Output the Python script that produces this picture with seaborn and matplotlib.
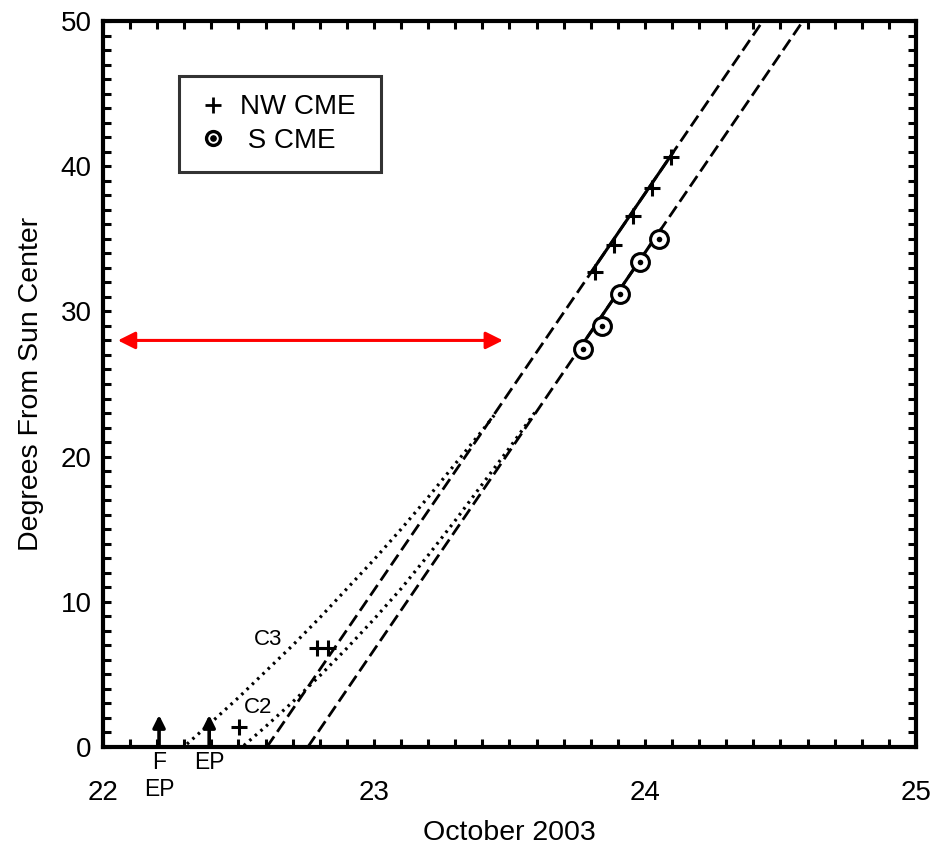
import numpy as np
import pandas as pd
import matplotlib
matplotlib.use("Agg")
import matplotlib.pyplot as plt
from matplotlib.lines import Line2D
from matplotlib.legend_handler import HandlerTuple
from matplotlib.ticker import MultipleLocator
import seaborn as sns

# --- measured positions (day of October 2003, degrees from Sun center) ---
nw_x = [23.815, 23.886, 23.956, 24.026, 24.096]
nw_y = [32.7, 34.6, 36.6, 38.5, 40.6]

s_x = [23.771, 23.841, 23.908, 23.982, 24.052]
s_y = [27.4, 29.0, 31.2, 33.4, 35.0]

# LASCO C3 and C2 measurements of the NW CME
c3_x = [22.79, 22.83]
c3_y = [6.8, 6.8]
c2_x = [22.502]
c2_y = [1.4]

# straight-line fits (extrapolated)
nw_fit_x = [22.605, 24.435]
nw_fit_y = [0.0, 50.0]
s_fit_x = [22.756, 24.583]
s_fit_y = [0.0, 50.0]

# accelerating profiles joining the coronagraph heights
nw_acc_x = [22.31, 22.40, 22.50, 22.60, 22.70, 22.80, 22.90, 23.00, 23.10, 23.20, 23.30, 23.40, 23.45]
nw_acc_y = [0.2, 1.7, 3.4, 5.2, 7.0, 8.9, 10.9, 12.9, 15.0, 17.2, 19.5, 21.8, 23.0]
s_acc_x = [22.52, 22.60, 22.70, 22.80, 22.90, 23.00, 23.10, 23.20, 23.30, 23.40, 23.50, 23.60]
s_acc_y = [0.1, 1.4, 3.1, 4.9, 6.8, 8.8, 10.9, 13.2, 15.6, 18.1, 20.6, 23.2]

# event markers: flare / eruption onsets
event_x = [22.207, 22.392]
event_labels = ["F\nEP", "EP"]
event_height = 2.2

# interval bar
span_x = [22.055, 23.476]
span_y = 28.0

x_ticks = [22, 23, 24, 25]
y_ticks = [0, 10, 20, 30, 40, 50]

sns.set_theme(style="ticks")
plt.rcParams["font.family"] = ["Liberation Sans", "DejaVu Sans"]
plt.rcParams["text.color"] = "black"
plt.rcParams["axes.labelcolor"] = "black"
plt.rcParams["xtick.color"] = "black"
plt.rcParams["ytick.color"] = "black"

fig = plt.figure(figsize=(9.36, 8.47), dpi=100)
ax = fig.add_axes([0.110, 0.1181, 0.8686, 0.8571])

dash = (0, (4.6, 2.0))
dot = (0, (0.8, 1.5))
lw = 2.0

# fitted lines: dashed everywhere, solid over the measured range
for fx, fy, px in [(nw_fit_x, nw_fit_y, nw_x), (s_fit_x, s_fit_y, s_x)]:
    df = pd.DataFrame({"x": fx, "y": fy})
    sns.lineplot(data=df, x="x", y="y", ax=ax, color="black", lw=lw,
                 linestyle=dash, sort=False, estimator=None)
    seg_x = [px[0] - 0.012, px[-1] + 0.008]
    seg = pd.DataFrame({"x": seg_x, "y": np.interp(seg_x, fx, fy)})
    sns.lineplot(data=seg, x="x", y="y", ax=ax, color="black", lw=lw + 0.2,
                 sort=False, estimator=None)

for ax_, ay_ in [(nw_acc_x, nw_acc_y), (s_acc_x, s_acc_y)]:
    df = pd.DataFrame({"x": ax_, "y": ay_})
    sns.lineplot(data=df, x="x", y="y", ax=ax, color="black", lw=2.3,
                 linestyle=dot, sort=False, estimator=None)

# NW CME points
sns.scatterplot(x=nw_x, y=nw_y, ax=ax, marker="+", s=140, color="black",
                linewidth=2.2, zorder=5)
sns.scatterplot(x=c3_x + c2_x, y=c3_y + c2_y, ax=ax, marker="+", s=140,
                color="black", linewidth=2.2, zorder=5)

# S CME points: open circle with a central dot
sns.scatterplot(x=s_x, y=s_y, ax=ax, marker="o", s=165, facecolor="white",
                edgecolor="black", linewidth=2.2, zorder=5)
sns.scatterplot(x=s_x, y=s_y, ax=ax, marker="o", s=16, color="black",
                linewidth=0, zorder=6)

# instrument labels
ax.text(22.609, 7.4, "C3", fontsize=16, ha="center", va="center")
ax.text(22.572, 2.75, "C2", fontsize=16, ha="center", va="center")

# event arrows with labels below the axis
for ex, lab in zip(event_x, event_labels):
    ax.annotate("", xy=(ex, event_height), xytext=(ex, 0),
                arrowprops=dict(arrowstyle="-|>", color="black", lw=2.6,
                                mutation_scale=18, shrinkA=0, shrinkB=0))
    ax.text(ex, -0.3, lab, fontsize=16.5, ha="center", va="top",
            linespacing=1.2, clip_on=False)

# red double arrow
ax.annotate("", xy=(span_x[1], span_y), xytext=(span_x[0], span_y),
            arrowprops=dict(arrowstyle="<|-|>", color="red", lw=2.2,
                            mutation_scale=26, shrinkA=0, shrinkB=0))

ax.set_xlim(22, 25)
ax.set_ylim(0, 50)
ax.set_xticks(x_ticks)
ax.set_yticks(y_ticks)
ax.xaxis.set_minor_locator(MultipleLocator(0.1))
ax.yaxis.set_minor_locator(MultipleLocator(1))
ax.tick_params(which="both", direction="in", top=True, right=True,
               width=2.2, length=6, labelsize=20, pad=8, color="black")
ax.tick_params(axis="x", which="major", pad=24)
for sp in ax.spines.values():
    sp.set_linewidth(3.0)
    sp.set_color("black")

ax.set_xlabel("October 2003", fontsize=20.5, labelpad=10)
ax.set_ylabel("Degrees From Sun Center", fontsize=20.5, labelpad=12)

# legend
h_nw = Line2D([], [], marker="+", color="black", ls="none", ms=11, mew=2.0)
h_s1 = Line2D([], [], marker="o", mfc="none", mec="black", ls="none", ms=10, mew=2.4)
h_s2 = Line2D([], [], marker="o", color="black", ls="none", ms=3.8)
leg = ax.legend([h_nw, (h_s1, h_s2)], ["NW CME ", " S CME"],
                handler_map={tuple: HandlerTuple(ndivide=1)},
                loc="upper left", bbox_to_anchor=(0.0935, 0.924),
                borderaxespad=0, fontsize=20, frameon=True, fancybox=False,
                handlelength=1.15, handletextpad=0.4, labelspacing=0.27,
                borderpad=0.65)
leg.get_frame().set_edgecolor("black")
leg.get_frame().set_linewidth(2.2)

fig.savefig("out.png", dpi=100)
